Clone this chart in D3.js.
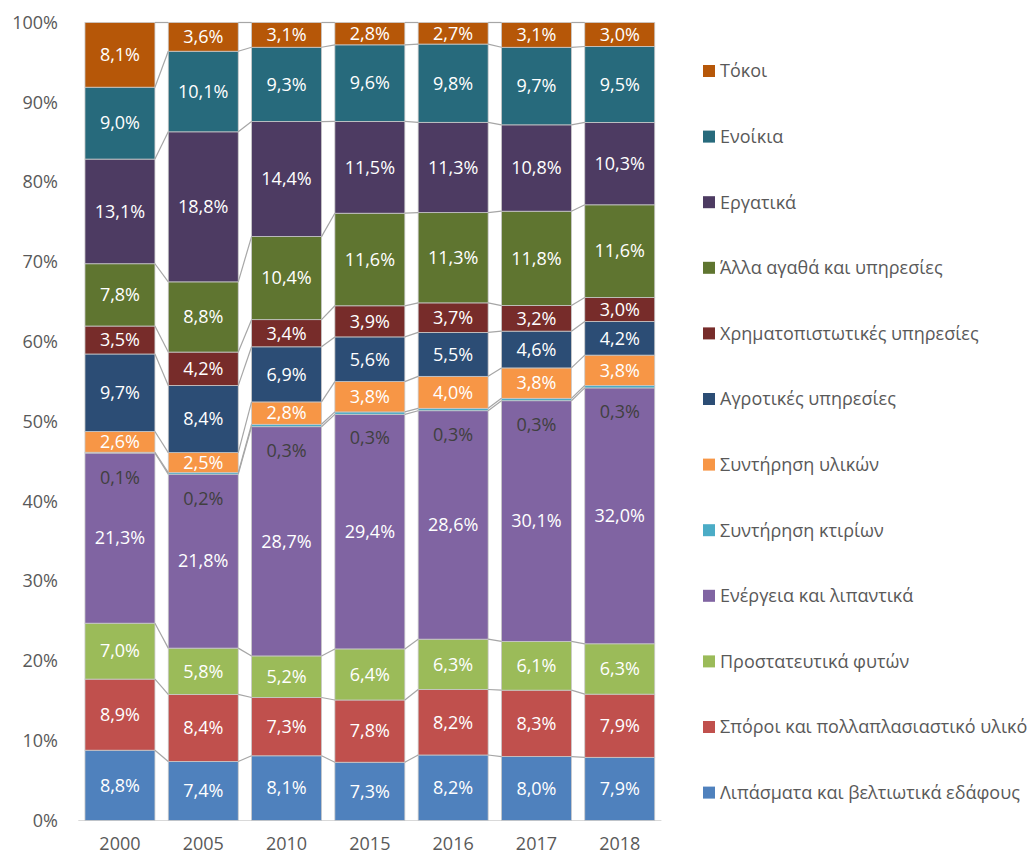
<!DOCTYPE html>
<html><head><meta charset="utf-8">
<script src="https://cdn.jsdelivr.net/npm/d3@7"></script>
<style>
body{margin:0;background:#fff;}
text{font-family:"Open Sans","Noto Sans",sans-serif;}
</style></head>
<body><svg id="c" width="1035" height="857"></svg>
<script>
const years = ["2000","2005","2010","2015","2016","2017","2018"];
const seriesNames = [
 "Λιπάσματα και βελτιωτικά εδάφους",
 "Σπόροι και πολλαπλασιαστικό υλικό",
 "Προστατευτικά φυτών",
 "Ενέργεια και λιπαντικά",
 "Συντήρηση κτιρίων",
 "Συντήρηση υλικών",
 "Αγροτικές υπηρεσίες",
 "Χρηματοπιστωτικές υπηρεσίες",
 "Άλλα αγαθά και υπηρεσίες",
 "Εργατικά",
 "Ενοίκια",
 "Τόκοι"
];
const lipasmata   = [8.8, 7.4, 8.1, 7.3, 8.2, 8.0, 7.9];
const sporoi      = [8.9, 8.4, 7.3, 7.8, 8.2, 8.3, 7.9];
const prostateft  = [7.0, 5.8, 5.2, 6.4, 6.3, 6.1, 6.3];
const energeia    = [21.3, 21.8, 28.7, 29.4, 28.6, 30.1, 32.0];
const ktiria      = [0.1, 0.2, 0.3, 0.3, 0.3, 0.3, 0.3];
const ylika       = [2.6, 2.5, 2.8, 3.8, 4.0, 3.8, 3.8];
const agrotikes   = [9.7, 8.4, 6.9, 5.6, 5.5, 4.6, 4.2];
const xrimatop    = [3.5, 4.2, 3.4, 3.9, 3.7, 3.2, 3.0];
const alla        = [7.8, 8.8, 10.4, 11.6, 11.3, 11.8, 11.6];
const ergatika    = [13.1, 18.8, 14.4, 11.5, 11.3, 10.8, 10.3];
const enoikia     = [9.0, 10.1, 9.3, 9.6, 9.8, 9.7, 9.5];
const tokoi       = [8.1, 3.6, 3.1, 2.8, 2.7, 3.1, 3.0];
const yTicks = [0,10,20,30,40,50,60,70,80,90,100];

const values = [lipasmata, sporoi, prostateft, energeia, ktiria, ylika, agrotikes, xrimatop, alla, ergatika, enoikia, tokoi];
const colors = ["#4F81BD","#C0504D","#9BBB59","#8064A2","#4BACC6","#F79646","#2C4D75","#772C2A","#5F7530","#4D3B62","#276A7C","#B65708"];
const labelColors = values.map((v,i)=> i===4 ? "#404040" : "#ffffff");
const FS = 18;

const svg = d3.select("#c");
const x = d3.scaleBand().domain(years).range([78.3, 661.4]).paddingInner(0.16).paddingOuter(0.08);
const y = d3.scaleLinear().domain([0,100]).range([820.5, 22.5]);

const table = years.map((yr,j)=>{
  const row = {year: yr};
  let tot = 0;
  seriesNames.forEach((s,i)=>{ tot += values[i][j]; });
  seriesNames.forEach((s,i)=>{ row[s] = values[i][j]/tot*100; row[s+"_raw"]=values[i][j]; });
  return row;
});
const stacked = d3.stack().keys(seriesNames)(table);

svg.append("g").selectAll("text").data(yTicks).join("text")
  .attr("x", 58).attr("y", d=>y(d)).attr("dy","0.35em")
  .attr("text-anchor","end").attr("font-size",FS).attr("fill","#595959")
  .text(d=>d+"%");

svg.append("line").attr("x1",78.3).attr("x2",661.4).attr("y1",y(0)).attr("y2",y(0))
  .attr("stroke","#d9d9d9").attr("stroke-width",1);

svg.append("g").selectAll("text").data(years).join("text")
  .attr("x", d=>x(d)+x.bandwidth()/2).attr("y", 850)
  .attr("text-anchor","middle").attr("font-size",FS).attr("fill","#595959")
  .text(d=>d);

const g = svg.append("g");
stacked.forEach((layer,i)=>{
  g.append("g").selectAll("rect").data(layer).join("rect")
    .attr("x", d=>x(d.data.year)).attr("width", x.bandwidth())
    .attr("y", d=>y(d[1])).attr("height", d=>y(d[0])-y(d[1]))
    .attr("fill", colors[i]).attr("stroke","#c9c9c9").attr("stroke-width",0.8);
});

const lg = svg.append("g");
stacked.forEach((layer,i)=>{
  for(let j=0;j<layer.length-1;j++){
    const a = layer[j], b = layer[j+1];
    lg.append("line")
      .attr("x1", x(a.data.year)+x.bandwidth()).attr("y1", y(a[1]))
      .attr("x2", x(b.data.year)).attr("y2", y(b[1]))
      .attr("stroke","#a6a6a6").attr("stroke-width",1.2);
  }
});

const fmt = v => v.toFixed(1).replace(".", ",") + "%";
stacked.forEach((layer,i)=>{
  svg.append("g").selectAll("text").data(layer).join("text")
    .attr("x", d=>x(d.data.year)+x.bandwidth()/2)
    .attr("y", d=>y((d[0]+d[1])/2) + (i===4 ? 25 : 0))
    .attr("dy","0.35em").attr("text-anchor","middle")
    .attr("font-size",FS).attr("fill",labelColors[i])
    .text(d=>fmt(d.data[seriesNames[i]+"_raw"]));
});

const leg = svg.append("g");
const legOrder = seriesNames.slice().reverse();
legOrder.forEach((s,k)=>{
  const idx = seriesNames.indexOf(s);
  const cy = 71 + k*65.6;
  leg.append("rect").attr("x",703).attr("y",cy-6).attr("width",12).attr("height",12).attr("fill",colors[idx]);
  leg.append("text").attr("x",720).attr("y",cy).attr("dy","0.35em")
    .attr("font-size",FS).attr("fill","#595959").text(s);
});
</script></body></html>
